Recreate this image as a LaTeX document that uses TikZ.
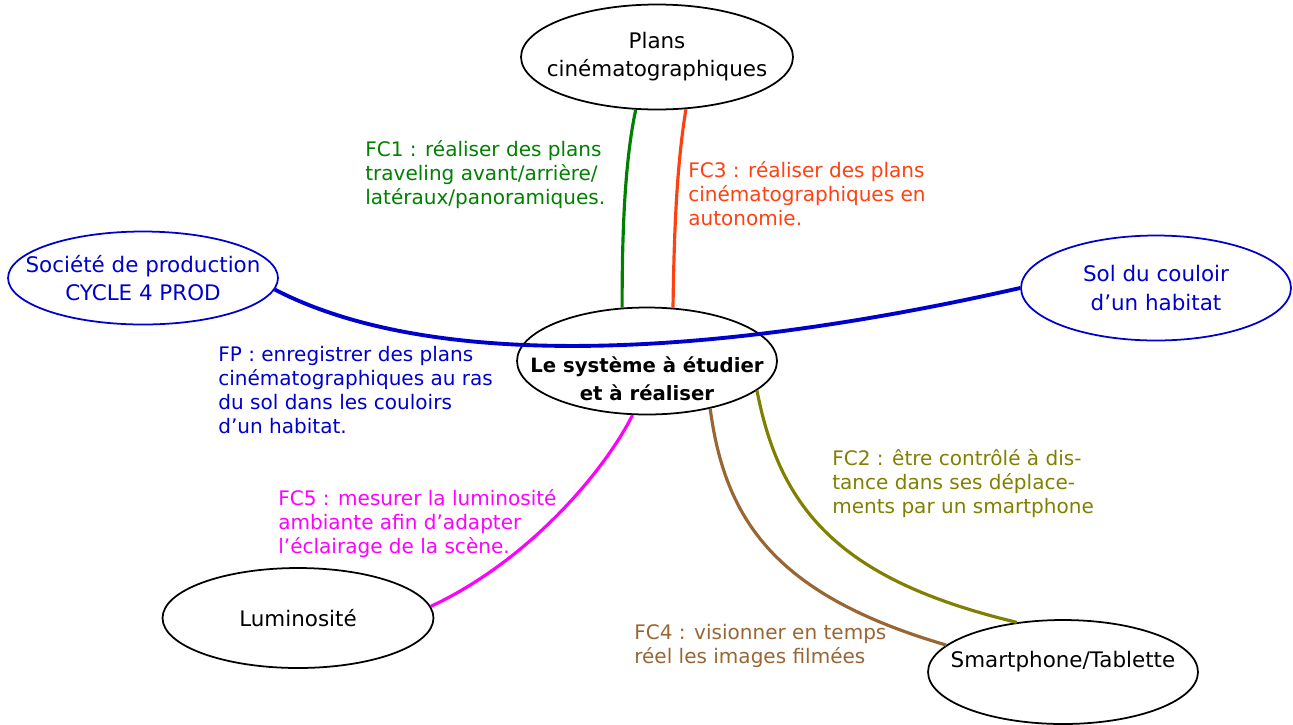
\documentclass[tikz,border=0pt]{standalone}
\usepackage{fontspec}
\setmainfont{DejaVu Sans}
\usetikzlibrary{shapes.geometric}
\definecolor{fcvert}{RGB}{0,128,0}
\definecolor{fcrouge}{RGB}{255,64,16}
\definecolor{fcbleu}{RGB}{0,0,204}
\definecolor{fcrose}{RGB}{255,0,255}
\definecolor{fcolive}{RGB}{128,128,0}
\definecolor{fcbrun}{RGB}{153,102,51}

\begin{document}
\begin{tikzpicture}[x=0.02cm,y=-0.02cm,
  bulle/.style={ellipse,draw,line width=1pt,inner xsep=-1cm,inner ysep=0pt,align=center,font=\fontsize{12.2}{16}\selectfont},
  fil/.style={line width=1.8pt},
  texte/.style={anchor=base west,inner sep=0pt,align=left,font=\fontsize{11.4}{13.6}\selectfont}]
\useasboundingbox (0,0) rectangle (1293,724);
\node[bulle,minimum width=5.44cm,minimum height=2.1cm] (P) at (657,57) {Plans\\cinématographiques};
\node[bulle,fcbleu,minimum width=5.4cm,minimum height=1.86cm] (S) at (143,278) {Société de production\\CYCLE 4 PROD};
\node[bulle,fcbleu,minimum width=5.4cm,minimum height=2.1cm] (C) at (1156,288) {Sol du couloir\\d’un habitat};
\node[bulle,minimum width=5.2cm,minimum height=2.14cm] (M) at (647,361) {};
\node[font=\bfseries\fontsize{11.2}{16}\selectfont,align=center] (Mt) at (647,379) {Le système à étudier\\et à réaliser};
\node[bulle,minimum width=5.42cm,minimum height=2cm] (L) at (298,618) {Luminosité};
\node[bulle,minimum width=5.4cm,minimum height=2.08cm,text depth=14pt] (T) at (1063,672) {Smartphone/Tablette};
\draw[fil,fcvert] (P.248) .. controls (625,160) and (622,230) .. (M.115);
\draw[fil,fcrouge] (P.299) .. controls (676,170) and (674,240) .. (M.64);
\draw[fil,fcbleu,line width=2.2pt] (S.-5) .. controls (420,365) and (680,365) .. (C.180);
\draw[fil,fcrose] (M.-105) .. controls (605,470) and (530,560) .. (L.5);
\draw[fil,fcbrun] (M.-37) .. controls (725,520) and (775,595) .. (T.167);
\draw[fil,fcolive] (M.-15) .. controls (780,510) and (840,580) .. (T.133);
\node[texte,fcvert] (f1) at (365,204) {FC1 : réaliser des plans\\traveling avant/arrière/\\latéraux/panoramiques.};
\node[texte,fcrouge] (f3) at (688,225) {FC3 : réaliser des plans\\cinématographiques en\\autonomie.};
\node[texte,fcbleu] (fp) at (218,433) {FP : enregistrer des plans\\cinématographiques au ras\\du sol dans les couloirs\\d’un habitat.};
\node[texte,fcrose] (f5) at (278,553) {FC5 : mesurer la luminosité\\ambiante afin d’adapter\\l’éclairage de la scène.};
\node[texte,fcolive] (f2) at (832,513) {FC2 : être contrôlé à dis-\\tance dans ses déplace-\\ments par un smartphone};
\node[texte,fcbrun] (f4) at (634,663) {FC4 : visionner en temps\\réel les images filmées};
\end{tikzpicture}
\end{document}
